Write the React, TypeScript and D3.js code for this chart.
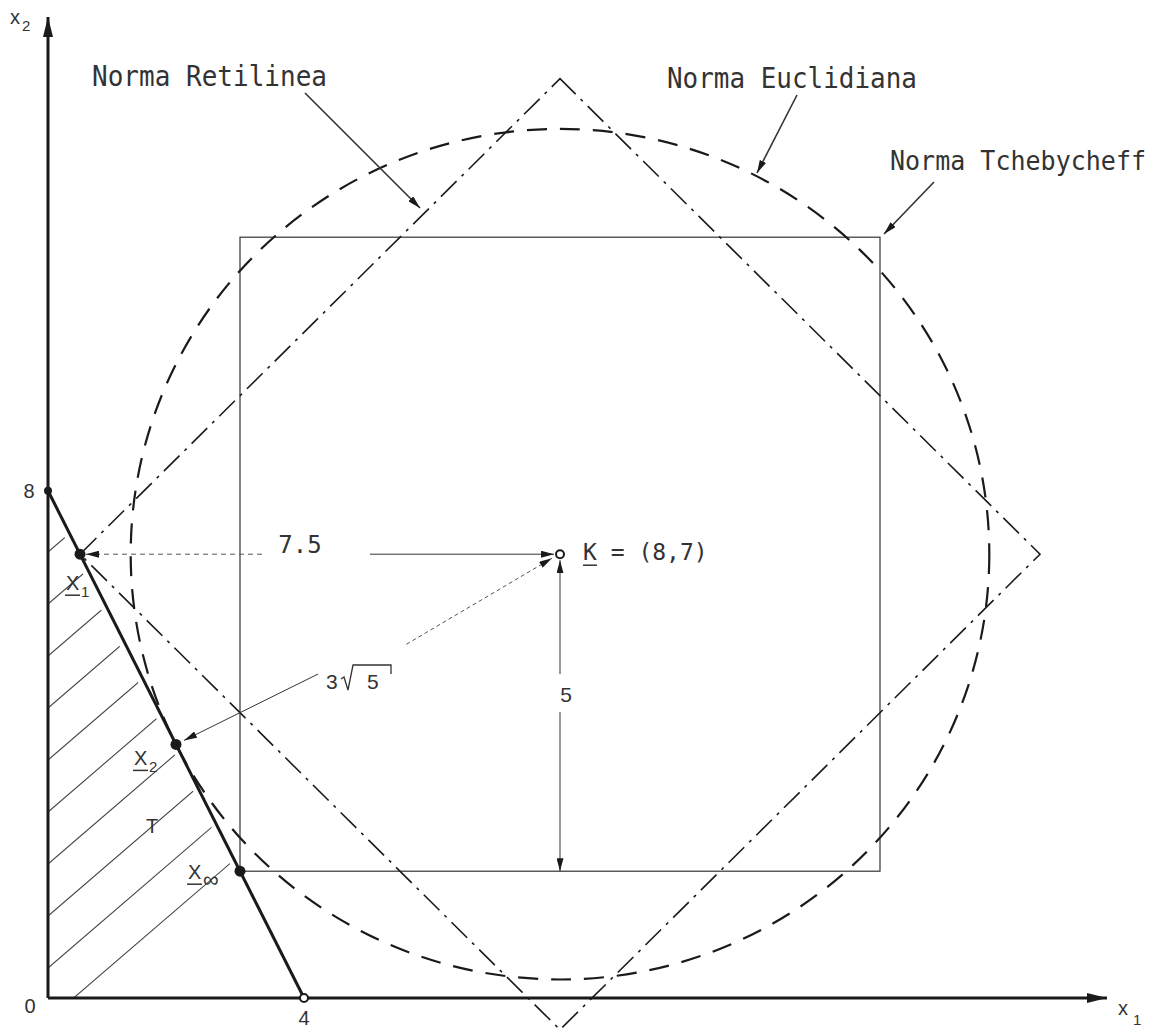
import React, { useEffect, useRef } from "react";
import * as d3 from "d3";

// ponto ideal e restricao x2 = 8 - 2 x1
const idealPoint: [number, number] = [8, 7];
const constraintEnds: [number, number][] = [
  [0, 8],
  [4, 0],
];
const solutionNames = ["X1", "X2", "X∞"];
const solutionPoints: [number, number][] = [
  [0.5, 7],
  [2, 4],
  [3, 2],
];
const normLabels = ["Norma Retilinea", "Norma Euclidiana", "Norma Tchebycheff"];
const normRadii = [7.5, 6.708, 5];
const distanceLabels = ["7.5", "3", "5"];
const xTicks = [0, 4];
const yTicks = [8];

const W = 1175;
const H = 1028;

const App = () => {
  const ref = useRef<SVGSVGElement | null>(null);

  useEffect(() => {
    if (!ref.current) return;
    const svg = d3.select(ref.current);
    svg.selectAll("*").remove();

    const x = d3.scaleLinear().domain([0, 16]).range([48, 48 + 16 * 64]);
    const y = d3.scaleLinear().domain([0, 15]).range([998, 998 - 15 * 63.4]);
    const ink = "#1a1a1a";
    const sans = "'Liberation Sans', Arial, sans-serif";
    const mono = "'DejaVu Sans Mono', 'Liberation Mono', monospace";

    const defs = svg.append("defs");
    const mk = (id: string, len: number, half: number) =>
      defs
        .append("marker")
        .attr("id", id)
        .attr("markerUnits", "userSpaceOnUse")
        .attr("viewBox", `0 0 ${len} ${half * 2}`)
        .attr("refX", len)
        .attr("refY", half)
        .attr("markerWidth", len)
        .attr("markerHeight", half * 2)
        .attr("orient", "auto")
        .append("path")
        .attr("d", `M0,0L${len},${half}L0,${half * 2}Z`)
        .attr("fill", ink);
    mk("arr", 13, 3.5);
    mk("axisArr", 20, 5);

    const [kx, ky] = idealPoint;
    const K = [x(kx), y(ky)];

    // hachura da regiao T
    defs
      .append("clipPath")
      .attr("id", "tri")
      .append("path")
      .attr(
        "d",
        d3.line()([
          [x(0), y(0)],
          [x(constraintEnds[1][0]) - 6, y(0)],
          [x(constraintEnds[0][0]), y(constraintEnds[0][1]) + 14],
        ])! + "Z"
      );
    const hatch = svg.append("g").attr("clip-path", "url(#tri)");
    const slope = 0.86;
    for (let c = y(0) + 22; c > y(8.5); c -= 52) {
      hatch
        .append("line")
        .attr("x1", x(0))
        .attr("y1", c)
        .attr("x2", x(0) + 400)
        .attr("y2", c - slope * 400)
        .attr("stroke", "#444")
        .attr("stroke-width", 1.1);
    }

    // norma de Tchebycheff
    const rT = normRadii[2];
    svg
      .append("rect")
      .attr("x", x(kx - rT))
      .attr("y", y(ky + rT))
      .attr("width", x(kx + rT) - x(kx - rT))
      .attr("height", y(ky - rT) - y(ky + rT))
      .attr("fill", "none")
      .attr("stroke", "#333")
      .attr("stroke-width", 1.2);

    // norma euclidiana
    const rE = normRadii[1];
    svg
      .append("ellipse")
      .attr("cx", K[0])
      .attr("cy", K[1])
      .attr("rx", x(kx + rE) - K[0])
      .attr("ry", K[1] - y(ky + rE))
      .attr("fill", "none")
      .attr("stroke", ink)
      .attr("stroke-width", 2.2)
      .attr("stroke-dasharray", "20 13");

    // norma retilinea
    const rR = normRadii[0];
    const diamond: [number, number][] = [
      [kx, ky + rR],
      [kx + rR, ky],
      [kx, ky - rR],
      [kx - rR, ky],
    ];
    svg
      .append("path")
      .attr("d", d3.line()(diamond.map(([a, b]) => [x(a), y(b)]))! + "Z")
      .attr("fill", "none")
      .attr("stroke", ink)
      .attr("stroke-width", 1.6)
      .attr("stroke-dasharray", "22 7 3 7");

    // eixos
    svg
      .append("line")
      .attr("x1", x(0))
      .attr("y1", y(0))
      .attr("x2", x(0))
      .attr("y2", 17)
      .attr("stroke", ink)
      .attr("stroke-width", 3)
      .attr("marker-end", "url(#axisArr)");
    svg
      .append("line")
      .attr("x1", x(0))
      .attr("y1", y(0))
      .attr("x2", 1107)
      .attr("y2", y(0))
      .attr("stroke", ink)
      .attr("stroke-width", 3)
      .attr("marker-end", "url(#axisArr)");

    const ax = svg.append("g").attr("font-family", sans).attr("font-size", 20).attr("fill", "#333");
    ax.append("text").attr("x", 10).attr("y", 24).text("x");
    ax.append("text").attr("x", 22).attr("y", 31).attr("font-size", 15).text("2");
    ax.append("text").attr("x", 1118).attr("y", 1015).text("x");
    ax.append("text").attr("x", 1133).attr("y", 1025).attr("font-size", 15).text("1");
    xTicks.forEach((t) => {
      if (t === 0) {
        ax.append("text").attr("x", x(0) - 18).attr("y", y(0) + 15).attr("text-anchor", "middle").text("0");
      } else {
        ax.append("text").attr("x", x(t)).attr("y", y(0) + 27).attr("text-anchor", "middle").text(String(t));
      }
    });
    yTicks.forEach((t) => {
      ax.append("text").attr("x", x(0) - 19).attr("y", y(t) + 7).attr("text-anchor", "middle").text(String(t));
    });

    // restricao
    svg
      .append("line")
      .attr("x1", x(constraintEnds[0][0]))
      .attr("y1", y(constraintEnds[0][1]))
      .attr("x2", x(constraintEnds[1][0]))
      .attr("y2", y(constraintEnds[1][1]))
      .attr("stroke", ink)
      .attr("stroke-width", 3);

    // cotas
    const [x1p, x2p, xip] = solutionPoints.map(([a, b]) => [x(a), y(b)]);
    // 7.5
    svg
      .append("line")
      .attr("x1", 262)
      .attr("y1", K[1])
      .attr("x2", x1p[0] + 6)
      .attr("y2", K[1])
      .attr("stroke", "#555")
      .attr("stroke-width", 1)
      .attr("stroke-dasharray", "5 4")
      .attr("marker-end", "url(#arr)");
    svg
      .append("line")
      .attr("x1", 370)
      .attr("y1", K[1])
      .attr("x2", K[0] - 6)
      .attr("y2", K[1])
      .attr("stroke", "#333")
      .attr("stroke-width", 1)
      .attr("marker-end", "url(#arr)");
    svg
      .append("text")
      .attr("x", 300)
      .attr("y", K[1] - 1)
      .attr("text-anchor", "middle")
      .attr("font-family", mono)
      .attr("font-size", 24)
      .attr("fill", "#333")
      .text(distanceLabels[0]);

    // 3 raiz de 5
    const along = (t: number) => [x2p[0] + t * (K[0] - x2p[0]), x2p[1] + t * (K[1] - x2p[1])];
    const a1 = along(0.37);
    svg
      .append("line")
      .attr("x1", a1[0])
      .attr("y1", a1[1])
      .attr("x2", x2p[0] + 8)
      .attr("y2", x2p[1] - 4)
      .attr("stroke", "#333")
      .attr("stroke-width", 1)
      .attr("marker-end", "url(#arr)");
    const a2 = along(0.6);
    svg
      .append("line")
      .attr("x1", a2[0])
      .attr("y1", a2[1] + 14)
      .attr("x2", K[0] - 8)
      .attr("y2", K[1] + 4)
      .attr("stroke", "#555")
      .attr("stroke-width", 1)
      .attr("stroke-dasharray", "4 3")
      .attr("marker-end", "url(#arr)");
    const sq = svg.append("g").attr("font-family", sans).attr("font-size", 21).attr("fill", "#333");
    sq.append("text").attr("x", 326).attr("y", 689).text(distanceLabels[1]);
    sq.append("text").attr("x", 367).attr("y", 689).text("5");
    sq.append("path")
      .attr("d", "M341,679L344,677L348,690L353,665H391V674")
      .attr("fill", "none")
      .attr("stroke", "#333")
      .attr("stroke-width", 1.3);

    // 5
    svg
      .append("line")
      .attr("x1", K[0])
      .attr("y1", 674)
      .attr("x2", K[0])
      .attr("y2", K[1] + 6)
      .attr("stroke", "#333")
      .attr("stroke-width", 1)
      .attr("marker-end", "url(#arr)");
    svg
      .append("line")
      .attr("x1", K[0])
      .attr("y1", 712)
      .attr("x2", K[0])
      .attr("y2", y(ky - rT))
      .attr("stroke", "#333")
      .attr("stroke-width", 1)
      .attr("marker-end", "url(#arr)");
    svg
      .append("text")
      .attr("x", K[0] + 6)
      .attr("y", 702)
      .attr("text-anchor", "middle")
      .attr("font-family", sans)
      .attr("font-size", 21)
      .attr("fill", "#333")
      .text(distanceLabels[2]);

    // pontos
    svg.append("circle").attr("cx", x(0)).attr("cy", y(8)).attr("r", 4).attr("fill", ink);
    [x1p, x2p, xip].forEach((p) =>
      svg.append("circle").attr("cx", p[0]).attr("cy", p[1]).attr("r", 5.5).attr("fill", ink)
    );
    svg.append("circle").attr("cx", K[0]).attr("cy", K[1]).attr("r", 4).attr("fill", "white").attr("stroke", ink).attr("stroke-width", 2);
    svg.append("circle").attr("cx", x(4)).attr("cy", y(0)).attr("r", 4).attr("fill", "white").attr("stroke", ink).attr("stroke-width", 2);

    // rotulos das solucoes
    const lab = svg.append("g").attr("font-family", sans).attr("fill", "#333");
    const solLabelPos = [
      [x1p[0] - 14, x1p[1] + 36],
      [x2p[0] - 42, x2p[1] + 21],
      [xip[0] - 52, xip[1] + 8],
    ];
    solutionNames.forEach((n, i) => {
      const [lx, ly] = solLabelPos[i];
      lab.append("text").attr("x", lx).attr("y", ly).attr("font-size", 20).text("X");
      lab.append("line").attr("x1", lx - 1).attr("x2", lx + 14).attr("y1", ly + 5).attr("y2", ly + 5).attr("stroke", "#333").attr("stroke-width", 1.5);
      lab.append("text").attr("x", lx + 15).attr("y", ly + (i === 2 ? 8 : 7)).attr("font-size", i === 2 ? 22 : 15).text(n.slice(1));
    });
    lab.append("text").attr("x", 146).attr("y", 833).attr("font-size", 20).text("T");

    // K
    lab.append("text").attr("x", 583).attr("y", K[1] + 6).attr("font-family", mono).attr("font-size", 23).text("K = (8,7)");
    lab.append("line").attr("x1", 583).attr("x2", 597).attr("y1", K[1] + 11).attr("y2", K[1] + 11).attr("stroke", "#333").attr("stroke-width", 1.5);

    // legendas das normas
    const normPos = [
      { tx: 92, ty: 86, len: 235, from: [305, 93], to: [420, 208] },
      { tx: 667, ty: 88, len: 250, from: [797, 95], to: [757, 173] },
      { tx: 890, ty: 170, len: 256, from: [934, 182], to: [884, 234] },
    ];
    normLabels.forEach((n, i) => {
      const p = normPos[i];
      svg
        .append("text")
        .attr("x", p.tx)
        .attr("y", p.ty)
        .attr("font-family", mono)
        .attr("font-size", i === 2 ? 26 : 29)
        .attr("fill", "#333")
        .attr("textLength", p.len)
        .attr("lengthAdjust", "spacingAndGlyphs")
        .text(n);
      svg
        .append("line")
        .attr("x1", p.from[0])
        .attr("y1", p.from[1])
        .attr("x2", p.to[0])
        .attr("y2", p.to[1])
        .attr("stroke", "#333")
        .attr("stroke-width", 1.6)
        .attr("marker-end", "url(#arr)");
    });
  }, []);

  return (
    <div style={{ position: "absolute", left: 0, top: 0, width: W, height: H, background: "white" }}>
      <svg ref={ref} width={W} height={H} style={{ display: "block" }} />
    </div>
  );
};

export default App;
